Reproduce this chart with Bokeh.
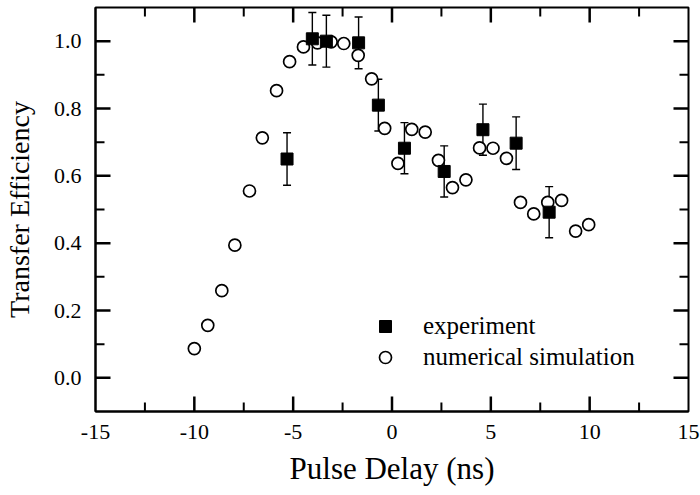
from bokeh.plotting import figure
from bokeh.models import (ColumnDataSource, Whisker, Legend, LegendItem,
                          FixedTicker, NumeralTickFormatter, Range1d, TeeHead)
from bokeh.embed import file_html
from bokeh.resources import INLINE

# numerical simulation
sim_delay = [-10.0, -9.32, -8.61, -7.95, -7.21, -6.56, -5.84, -5.18, -4.48, -3.77,
             -3.08, -2.44, -1.71, -1.03, -0.37, 0.30, 1.00, 1.68, 2.35, 3.06,
             3.74, 4.43, 5.11, 5.79, 6.50, 7.17, 7.88, 8.58, 9.29, 9.95]
sim_eff = [0.087, 0.156, 0.259, 0.394, 0.555, 0.713, 0.853, 0.939, 0.983, 0.995,
           0.998, 0.993, 0.958, 0.888, 0.741, 0.637, 0.738, 0.730, 0.646, 0.565,
           0.588, 0.683, 0.682, 0.652, 0.521, 0.487, 0.521, 0.527, 0.436, 0.455]

# experiment
exp_delay = [-5.31, -4.03, -3.32, -1.69, -0.69, 0.63, 2.64, 4.60, 6.28, 7.95]
exp_eff = [0.650, 1.007, 1.000, 0.995, 0.810, 0.682, 0.613, 0.737, 0.697, 0.492]
exp_err = [0.078, 0.078, 0.077, 0.077, 0.077, 0.076, 0.076, 0.076, 0.078, 0.076]

# axes
x_range = [-15, 15]
y_range = [-0.1, 1.1]
x_tick_labels = [-15, -10, -5, 0, 5, 10, 15]
y_tick_labels = [0.0, 0.2, 0.4, 0.6, 0.8, 1.0]
x_major = [-10, -5, 0, 5, 10]
x_minor = [-12.5, -7.5, -2.5, 2.5, 7.5, 12.5]
y_major = [0.0, 0.2, 0.4, 0.6, 0.8, 1.0]
y_minor = [0.1, 0.3, 0.5, 0.7, 0.9]

FONT = "Liberation Serif"
W, H = 700, 495
BL, BR, BT, BB = 95, 12, 7, 84

p = figure(width=W, height=H, output_backend="svg", toolbar_location=None,
           x_range=Range1d(*x_range), y_range=Range1d(*y_range),
           x_axis_label="Pulse Delay (ns)", y_axis_label="Transfer Efficiency",
           min_border_left=BL, min_border_right=BR, min_border_top=BT, min_border_bottom=BB)
p.grid.visible = False
p.outline_line_color = "black"
p.outline_line_width = 2
p.background_fill_color = "white"
p.border_fill_color = "white"


def style(ax):
    ax.axis_line_width = 2
    ax.axis_line_color = "black"
    ax.major_tick_in = 0
    ax.major_tick_out = 0
    ax.minor_tick_in = 0
    ax.minor_tick_out = 0
    ax.major_tick_line_color = None
    ax.minor_tick_line_color = None
    ax.major_label_text_font = FONT
    ax.major_label_text_font_size = "22px"
    ax.major_label_text_color = "black"
    ax.axis_label_text_font = FONT
    ax.axis_label_text_font_style = "normal"
    ax.axis_label_text_color = "black"


xb = p.xaxis[0]
yl = p.yaxis[0]
xb.ticker = FixedTicker(ticks=x_tick_labels)
yl.ticker = FixedTicker(ticks=y_tick_labels)
xb.formatter = NumeralTickFormatter(format="0")
yl.formatter = NumeralTickFormatter(format="0.0")
style(xb)
style(yl)
xb.axis_label_text_font_size = "31px"
yl.axis_label_text_font_size = "28px"
xb.major_label_standoff = 13
xb.axis_label_standoff = 9
yl.major_label_standoff = 14
yl.axis_label_standoff = 16

# inward tick marks on all four sides (lengths in px converted to data units)
px_x = (x_range[1] - x_range[0]) / (W - BL - BR)
px_y = (y_range[1] - y_range[0]) / (H - BT - BB)
MAJ, MIN = 15, 9


def vticks(xs, length, lw):
    n = len(xs)
    p.segment(x0=xs, y0=[y_range[0]] * n, x1=xs, y1=[y_range[0] + length * px_y] * n,
              line_color="black", line_width=lw)
    p.segment(x0=xs, y0=[y_range[1]] * n, x1=xs, y1=[y_range[1] - length * px_y] * n,
              line_color="black", line_width=lw)


def hticks(ys, length, lw):
    n = len(ys)
    p.segment(x0=[x_range[0]] * n, y0=ys, x1=[x_range[0] + length * px_x] * n, y1=ys,
              line_color="black", line_width=lw)
    p.segment(x0=[x_range[1]] * n, y0=ys, x1=[x_range[1] - length * px_x] * n, y1=ys,
              line_color="black", line_width=lw)


vticks(x_major, MAJ, 2.5)
vticks(x_minor, MIN, 2)
hticks(y_major, MAJ, 2.5)
hticks(y_minor, MIN, 2)

src = ColumnDataSource(dict(
    x=exp_delay, y=exp_eff,
    lo=[v - e for v, e in zip(exp_eff, exp_err)],
    hi=[v + e for v, e in zip(exp_eff, exp_err)],
))

ci = p.scatter(sim_delay, sim_eff, marker="circle", size=12, fill_color="white",
               line_color="black", line_width=1.7)

w = Whisker(base="x", lower="lo", upper="hi", source=src, line_width=1.4, line_color="black",
            upper_head=TeeHead(size=8, line_width=1.4, line_color="black"),
            lower_head=TeeHead(size=8, line_width=1.4, line_color="black"))
p.add_layout(w)

sq = p.scatter("x", "y", source=src, marker="square", size=12, fill_color="black",
               line_color="black")

legend = Legend(items=[LegendItem(label="experiment", renderers=[sq]),
                       LegendItem(label="numerical simulation", renderers=[ci])],
                location=(275, 39), border_line_color=None, background_fill_alpha=0,
                padding=0, margin=0, spacing=1, glyph_width=30, glyph_height=30,
                label_height=30, label_standoff=23,
                label_text_font=FONT, label_text_font_size="25px", label_text_color="black")
p.add_layout(legend)

open("out.html", "w").write(file_html(p, INLINE))
